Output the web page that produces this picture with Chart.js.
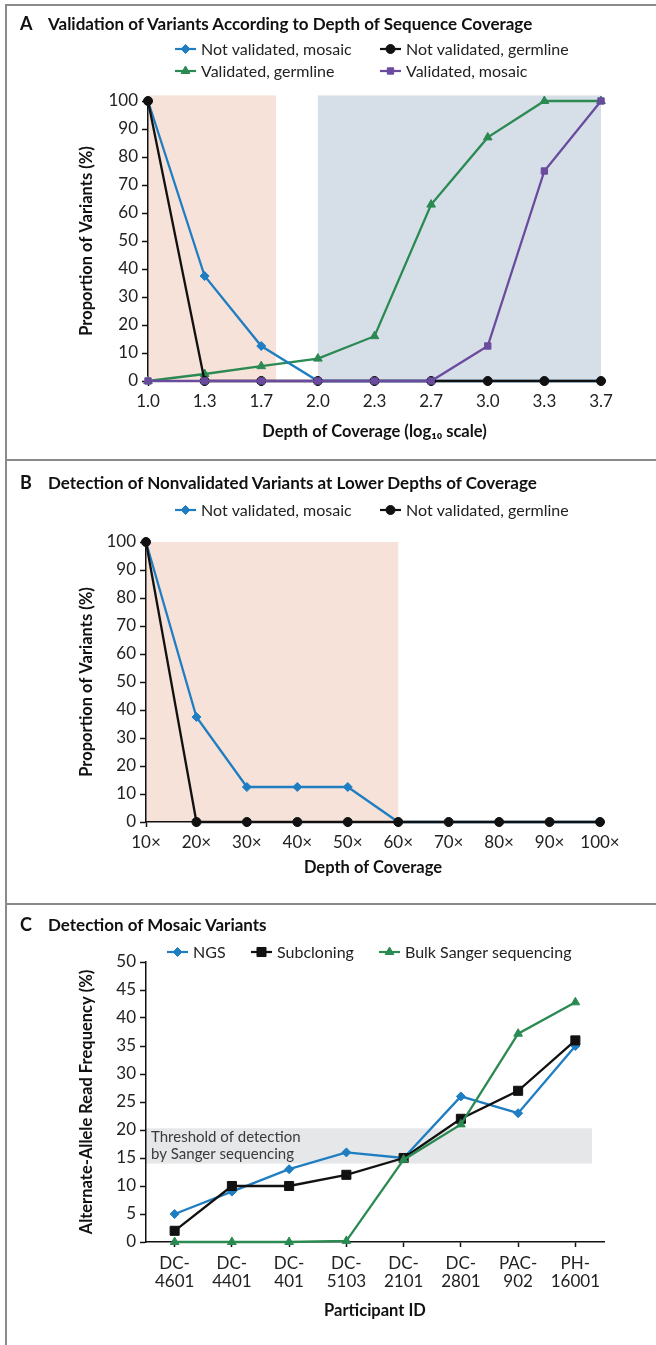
<!DOCTYPE html>
<html>
<head>
<meta charset="utf-8">
<script src="https://cdn.jsdelivr.net/npm/chart.js@4.4.1/dist/chart.umd.min.js"></script>
<style>
  body { margin: 0; background: #fff; }
  #page { position: relative; width: 656px; height: 1345px; overflow: hidden; font-family: Lato, "DejaVu Sans", sans-serif; }
  .panel { position: absolute; left: 0; width: 656px; }
  .panel canvas { position: absolute; left: 0; top: 0; }
  .title { position: absolute; left: 20px; font-size: 17px; line-height: 20px; font-weight: bold; color: #111; white-space: nowrap; }
  .title .letter { display: inline-block; width: 28px; font-size: 18px; }
  .rule { position: absolute; background: #8a8a8a; }
</style>
</head>
<body>
<div id="page">
  <div class="panel" style="top:0;height:458px"><canvas id="chartA" width="656" height="458"></canvas></div>
  <div class="panel" style="top:460px;height:444px"><canvas id="chartB" width="656" height="444"></canvas></div>
  <div class="panel" style="top:904px;height:441px"><canvas id="chartC" width="656" height="441"></canvas></div>

  <div class="title" style="top:13px"><span class="letter">A</span>Validation of Variants According to Depth of Sequence Coverage</div>
  <div class="title" style="top:472px"><span class="letter">B</span>Detection of Nonvalidated Variants at Lower Depths of Coverage</div>
  <div class="title" style="top:914px"><span class="letter">C</span>Detection of Mosaic Variants</div>

  <div class="rule" style="left:5px;top:4px;width:651px;height:2px"></div>
  <div class="rule" style="left:5px;top:4px;width:2px;height:1341px"></div>
  <div class="rule" style="left:5px;top:459px;width:651px;height:2px"></div>
  <div class="rule" style="left:5px;top:903px;width:651px;height:2px"></div>
</div>

<script>
// panel A: depth of coverage, log10
const depthLog = ["1.0", "1.3", "1.7", "2.0", "2.3", "2.7", "3.0", "3.3", "3.7"];
const notValMosaicA = [100, 37.5, 12.5, 0, 0, 0, 0, 0, 0];
const notValGermlineA = [100, 0, 0, 0, 0, 0, 0, 0, 0];
const valGermlineA = [0, 2.5, 5.3, 8, 16, 63, 87, 100, 100];
const valMosaicA = [0, 0, 0, 0, 0, 0, 12.5, 75, 100];

// panel B: lower depths
const depthX = ["10×", "20×", "30×", "40×", "50×", "60×", "70×", "80×", "90×", "100×"];
const notValMosaicB = [100, 37.5, 12.5, 12.5, 12.5, 0, 0, 0, 0, 0];
const notValGermlineB = [100, 0, 0, 0, 0, 0, 0, 0, 0, 0];

// panel C: mosaic variants
const participants = ["DC-4601", "DC-4401", "DC-401", "DC-5103", "DC-2101", "DC-2801", "PAC-902", "PH-16001"];
const ngs = [5, 9, 13, 16, 15, 26, 23, 35];
const subcloning = [2, 10, 10, 12, 15, 22, 27, 36];
const bulkSanger = [0, 0, 0, 0.2, 14.7, 21, 37.2, 42.8];

// shaded bands (category index range, value range)
const bandsA = [
    { from: 0, to: 2.26, low: 0, high: 102, color: "#f6e2d8" },
    { from: 3, to: 8, low: 0, high: 102, color: "#d6dfe7" },
];
const bandsB = [{ from: 0, to: 5, low: 0, high: 100, color: "#f6e2d8" }];
const bandsC = [
    { from: -0.5, to: 7.29, low: 14, high: 20.3, color: "#e6e7e9",
      text: ["Threshold of detection", "by Sanger sequencing"] },
];

const FONT = "Lato, 'DejaVu Sans', sans-serif";
const BLUE = "#1f7ec2";
const BLACK = "#111111";
const GREEN = "#2b8a52";
const PURPLE = "#6a4b9e";

Chart.defaults.font.family = FONT;
Chart.defaults.color = "#222";

function bandPlugin(bands) {
    return {
        id: "bands",
        beforeDraw(chart) {
            const ctx = chart.ctx;
            const x = chart.scales.x;
            const y = chart.scales.y;
            ctx.save();
            bands.forEach(function (b) {
                const x0 = x.getPixelForValue(b.from);
                const x1 = x.getPixelForValue(b.to);
                const y0 = y.getPixelForValue(b.high);
                const y1 = y.getPixelForValue(b.low);
                ctx.fillStyle = b.color;
                ctx.fillRect(x0, y0, x1 - x0, y1 - y0);
                if (b.text) {
                    ctx.fillStyle = "#3a3a3a";
                    ctx.font = "15px " + FONT;
                    ctx.textBaseline = "middle";
                    ctx.textAlign = "left";
                    b.text.forEach(function (line, i) {
                        ctx.fillText(line, x0 + 5, y0 + 9 + i * 16.5);
                    });
                }
            });
            ctx.restore();
        },
    };
}

function legendPlugin(items) {
    return {
        id: "lineLegend",
        afterDraw(chart) {
            const ctx = chart.ctx;
            ctx.save();
            items.forEach(function (it) {
                ctx.strokeStyle = it.color;
                ctx.fillStyle = it.color;
                ctx.lineWidth = 2.2;
                ctx.beginPath();
                ctx.moveTo(it.x, it.y);
                ctx.lineTo(it.x + 21, it.y);
                ctx.stroke();
                ctx.lineWidth = 1;
                Chart.helpers.drawPoint(ctx, {
                    pointStyle: it.style,
                    radius: it.radius,
                    rotation: 0,
                    borderWidth: 1,
                }, it.x + 10.5, it.y);
                ctx.fillStyle = "#222";
                ctx.font = "16px " + FONT;
                ctx.textBaseline = "middle";
                ctx.textAlign = "left";
                ctx.fillText(it.text, it.x + 26, it.y + 1);
            });
            ctx.restore();
        },
    };
}

function series(label, data, color, style, radius) {
    return {
        label: label,
        data: data,
        borderColor: color,
        backgroundColor: color,
        borderWidth: 2.3,
        pointStyle: style,
        pointRadius: radius,
        pointBorderWidth: 1,
        pointBackgroundColor: color,
        pointBorderColor: color,
        tension: 0,
        clip: false,
    };
}

function axisGrid(len) {
    return {
        display: true,
        drawOnChartArea: false,
        drawTicks: true,
        tickLength: len,
        tickWidth: 1.5,
        tickColor: BLACK,
        offset: false,
    };
}

function chartConfig(p) {
    return {
        type: "line",
        data: { labels: p.labels, datasets: p.datasets },
        options: {
            responsive: false,
            animation: false,
            events: [],
            layout: { padding: p.padding },
            plugins: { legend: { display: false }, tooltip: { enabled: false } },
            scales: {
                x: {
                    type: "category",
                    offset: p.offset,
                    grid: axisGrid(5),
                    border: { display: true, color: BLACK, width: 1.5 },
                    ticks: {
                        color: "#222",
                        autoSkip: false,
                        maxRotation: 0,
                        minRotation: 0,
                        padding: p.xPad,
                        font: { size: 17, lineHeight: 1.08 },
                        callback: p.xCallback || function (v) { return this.getLabelForValue(v); },
                    },
                    title: {
                        display: true,
                        text: p.xTitle,
                        color: BLACK,
                        padding: 0,
                        font: { size: 16.5, weight: "bold" },
                    },
                    afterFit: function (s) { s.height = p.xHeight; },
                },
                y: {
                    min: 0,
                    max: p.yMax,
                    grid: axisGrid(6),
                    border: { display: true, color: BLACK, width: 1.5 },
                    ticks: { stepSize: p.yStep, padding: 4, color: "#222", font: { size: 17 } },
                    title: {
                        display: true,
                        text: p.yTitle,
                        color: BLACK,
                        padding: 0,
                        font: { size: 16.5, weight: "bold" },
                    },
                    afterFit: function (s) { s.width = p.yWidth; },
                },
            },
        },
        plugins: [bandPlugin(p.bands), legendPlugin(p.legend)],
    };
}

new Chart(document.getElementById("chartA"), chartConfig({
    labels: depthLog,
    datasets: [
        series("Validated, mosaic", valMosaicA, PURPLE, "rect", 4.5),
        series("Not validated, germline", notValGermlineA, BLACK, "circle", 4.5),
        series("Not validated, mosaic", notValMosaicA, BLUE, "rectRot", 4.5),
        series("Validated, germline", valGermlineA, GREEN, "triangle", 5),
    ],
    offset: false,
    padding: { top: 101, left: 77, right: 55, bottom: 16 },
    yWidth: 71,
    xHeight: 61,
    xPad: 6,
    yMax: 100,
    yStep: 10,
    xTitle: "Depth of Coverage (log₁₀ scale)",
    yTitle: "Proportion of Variants (%)",
    bands: bandsA,
    legend: [
        { text: "Not validated, mosaic", color: BLUE, style: "rectRot", radius: 4.5, x: 175, y: 49 },
        { text: "Not validated, germline", color: BLACK, style: "circle", radius: 4.5, x: 380, y: 49 },
        { text: "Validated, germline", color: GREEN, style: "triangle", radius: 5, x: 175, y: 71 },
        { text: "Validated, mosaic", color: PURPLE, style: "rect", radius: 4.5, x: 380, y: 71 },
    ],
}));

new Chart(document.getElementById("chartB"), chartConfig({
    labels: depthX,
    datasets: [
        series("Not validated, germline", notValGermlineB, BLACK, "circle", 4.5),
        series("Not validated, mosaic", notValMosaicB, BLUE, "rectRot", 4.5),
    ],
    offset: false,
    padding: { top: 82, left: 77, right: 56, bottom: 26 },
    yWidth: 69,
    xHeight: 56,
    xPad: 6,
    yMax: 100,
    yStep: 10,
    xTitle: "Depth of Coverage",
    yTitle: "Proportion of Variants (%)",
    bands: bandsB,
    legend: [
        { text: "Not validated, mosaic", color: BLUE, style: "rectRot", radius: 4.5, x: 175, y: 50 },
        { text: "Not validated, germline", color: BLACK, style: "circle", radius: 4.5, x: 380, y: 50 },
    ],
}));

new Chart(document.getElementById("chartC"), chartConfig({
    labels: participants,
    datasets: [
        series("Bulk Sanger sequencing", bulkSanger, GREEN, "triangle", 5),
        series("Subcloning", subcloning, BLACK, "rect", 6.4),
        series("NGS", ngs, BLUE, "rectRot", 4.5),
    ],
    offset: true,
    padding: { top: 58, left: 77, right: 52, bottom: 24 },
    yWidth: 69,
    xHeight: 79,
    xPad: 7,
    yMax: 50,
    yStep: 5,
    xTitle: "Participant ID",
    yTitle: "Alternate-Allele Read Frequency (%)",
    xCallback: function (v) {
        const s = this.getLabelForValue(v);
        const i = s.indexOf("-");
        return [s.slice(0, i + 1), s.slice(i + 1)];
    },
    bands: bandsC,
    legend: [
        { text: "NGS", color: BLUE, style: "rectRot", radius: 4.5, x: 167, y: 48 },
        { text: "Subcloning", color: BLACK, style: "rect", radius: 6.4, x: 251, y: 48 },
        { text: "Bulk Sanger sequencing", color: GREEN, style: "triangle", radius: 5, x: 379, y: 48 },
    ],
}));
</script>
</body>
</html>
